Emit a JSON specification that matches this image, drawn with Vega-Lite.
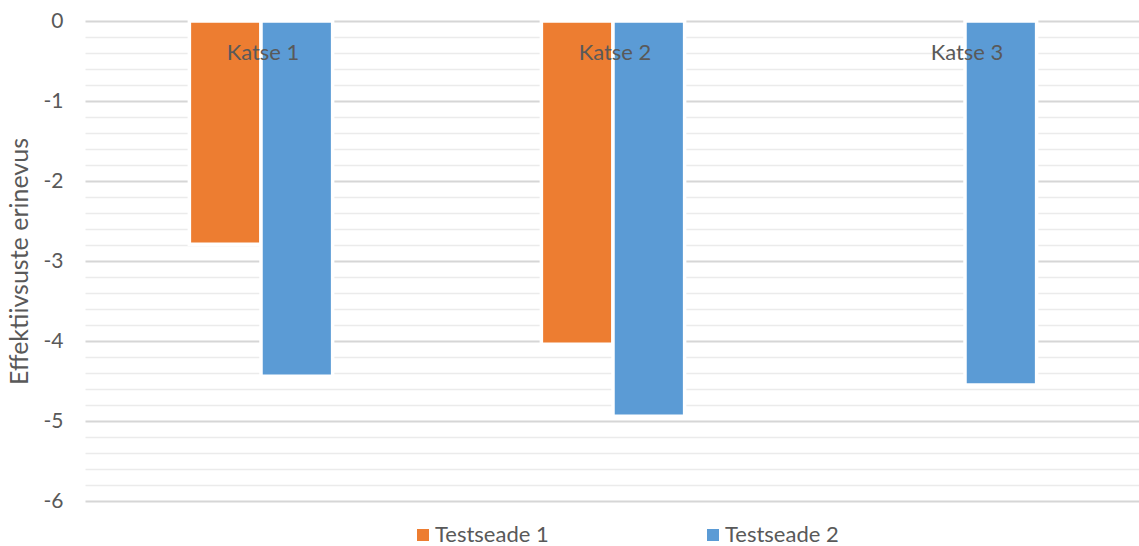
{
  "$schema": "https://vega.github.io/schema/vega-lite/v6.json",
  "width": 1056,
  "height": 480,
  "autosize": {"type": "none"},
  "padding": {"left": 85, "top": 21, "right": 0, "bottom": 45},
  "background": "white",
  "config": {
    "view": {"stroke": null},
    "font": "Lato"
  },
  "datasets": {
    "tulemused": [
      {"katse": "Katse 1", "seade": "Testseade 1", "erinevus": -2.79},
      {"katse": "Katse 1", "seade": "Testseade 2", "erinevus": -4.44},
      {"katse": "Katse 2", "seade": "Testseade 1", "erinevus": -4.04},
      {"katse": "Katse 2", "seade": "Testseade 2", "erinevus": -4.94},
      {"katse": "Katse 3", "seade": "Testseade 2", "erinevus": -4.55}
    ],
    "katsed": [
      {"katse": "Katse 1"},
      {"katse": "Katse 2"},
      {"katse": "Katse 3"}
    ]
  },
  "encoding": {
    "x": {
      "field": "katse",
      "type": "nominal",
      "sort": ["Katse 1", "Katse 2", "Katse 3"],
      "scale": {"paddingInner": 0.593, "paddingOuter": 0.2965},
      "axis": null
    }
  },
  "resolve": {"axis": {"y": "independent"}},
  "layer": [
    {
      "data": {"name": "tulemused"},
      "mark": {"type": "bar", "stroke": "white", "strokeWidth": 3.5},
      "encoding": {
        "xOffset": {
          "field": "seade",
          "type": "nominal",
          "sort": ["Testseade 1", "Testseade 2"],
          "scale": {"domain": ["Testseade 1", "Testseade 2"], "paddingInner": 0, "paddingOuter": 0}
        },
        "y": {
          "field": "erinevus",
          "type": "quantitative",
          "scale": {"domain": [-6, 0], "nice": false, "zero": false},
          "axis": {
            "title": "Effektiivsuste erinevus",
            "titleFont": "Lato",
            "titleFontSize": 25,
            "titleFontWeight": "normal",
            "titleColor": "#595959",
            "titleAngle": -90,
            "titleBaseline": "middle",
            "titleAlign": "center",
            "titleX": -66,
            "titleY": 240,
            "tickCount": 60,
            "values": [-6, -5.8, -5.6, -5.4, -5.2, -5, -4.8, -4.6, -4.4, -4.2, -4, -3.8, -3.6, -3.4, -3.2, -3, -2.8, -2.6, -2.4, -2.2, -2, -1.8, -1.6, -1.4, -1.2, -1, -0.8, -0.6, -0.4, -0.2, 0],
            "labelExpr": "abs(datum.value % 1) < 0.001 ? (datum.value == 0 ? '0' : '-' + abs(round(datum.value))) : ''",
            "labelFont": "Lato",
            "labelFontSize": 21,
            "labelColor": "#595959",
            "labelPadding": 22,
            "labelBound": false,
            "labelOverlap": false,
            "labelFlush": false,
            "ticks": false,
            "domain": false,
            "grid": true,
            "gridColor": {"condition": {"test": "abs(datum.value % 1) < 0.001", "value": "#d6d6d6"}, "value": "#ebebeb"},
            "gridWidth": {"condition": {"test": "abs(datum.value % 1) < 0.001", "value": 2}, "value": 1.5}
          }
        },
        "color": {
          "field": "seade",
          "type": "nominal",
          "scale": {"domain": ["Testseade 1", "Testseade 2"], "range": ["#ED7D31", "#5B9BD5"]},
          "legend": {
            "title": null,
            "orient": "none",
            "direction": "horizontal",
            "legendX": 327,
            "legendY": 503,
            "symbolType": "square",
            "symbolSize": 144,
            "symbolStrokeWidth": 0,
            "labelFont": "Lato",
            "labelFontSize": 22,
            "labelColor": "#595959",
            "labelOffset": 1,
            "labelLimit": 300,
            "columnPadding": 153
          }
        }
      }
    },
    {
      "data": {"name": "katsed"},
      "mark": {"type": "text", "font": "Lato", "fontSize": 22, "color": "#595959", "baseline": "middle", "align": "center", "dy": 32, "dx": 2},
      "encoding": {
        "y": {"datum": 0, "type": "quantitative", "axis": null},
        "text": {"field": "katse"}
      }
    }
  ]
}
